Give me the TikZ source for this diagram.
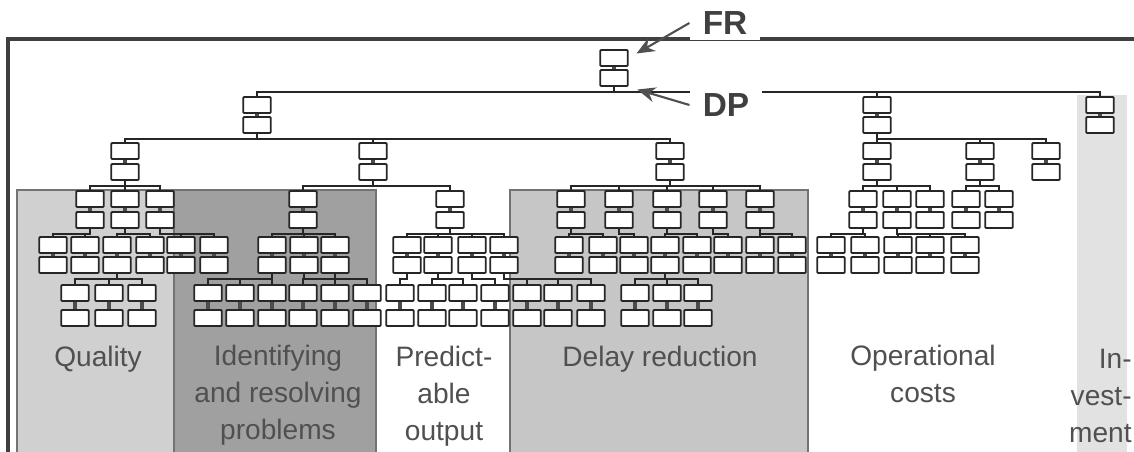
\documentclass[tikz,border=0pt]{standalone}
\usepackage{fontspec}
\setmainfont{Liberation Sans}
\usetikzlibrary{arrows.meta,positioning}
\definecolor{inkgray}{HTML}{505050}
\definecolor{quallight}{HTML}{D0D0D0}
\definecolor{probdark}{HTML}{A0A0A0}
\definecolor{delaymid}{HTML}{C6C6C6}
\definecolor{investpale}{HTML}{E2E2E2}
\tikzset{frbox/.style={draw=black!85, fill=white, line width=1.1pt, minimum width=.55cm, minimum height=.32cm, inner sep=0pt, rounded corners=.5pt}, plink/.style={line width=2.4pt, black!70}, link/.style={line width=.8pt, black!85}, zone/.style={draw=black!55, line width=.6pt}, frame/.style={line width=2pt, black!75}, ptr/.style={-{Stealth[length=3.6mm,width=3mm]}, line width=1.2pt, inkgray, shorten >=.18cm}, tag/.style={font=\bfseries\fontsize{19}{20}\selectfont, text=black!75, fill=white, inner xsep=.26cm, inner ysep=.12cm}, area/.style={font=\fontsize{16}{21}\selectfont, text=inkgray, align=center, anchor=north, inner sep=0pt}}
\newcommand{\fdpair}[4]{\node[frbox] (#1-f) at (#2,#3+8) {}; \node[frbox] (#1-d) at (#2,#3+24+#4) {}; \draw[plink] (#1-f) -- (#1-d);}

\begin{document}
\begin{tikzpicture}[x=0.02cm,y=-0.02cm]
\useasboundingbox (0,0) rectangle (1134,451);
\draw[zone,fill=quallight] (17,190) rectangle (174,455); \draw[zone,fill=probdark] (174,190) rectangle (376,455);
\draw[zone,fill=delaymid] (510,190) rectangle (808,455); \fill[investpale] (1077,95) rectangle (1127,455);
\draw[frame] (8,455) -- (8,39) -- (1138,39);
\fdpair{t}{614}{50}{4}
\foreach \n/\x in {a/257,b/877,c/1100}{\fdpair{\n}{\x}{97}{4}}
\foreach \n/\x in {a1/125,a2/373,a3/670,b1/877,b2/980,b3/1046}{\fdpair{\n}{\x}{143}{5}}
\foreach \n/\x in {q1/90,q2/125,q3/160,i1/303,p1/450,d1/571,d2/619,d3/667,d4/713,d5/760,o1/863,o2/897,o3/930,o4/966,o5/999}{\fdpair{\n}{\x}{191}{5}}
\foreach \n/\x in {q11/53,q12/85,q21/117,q22/150,q31/181,q32/214,i11/272,i12/304,i13/335,p11/407,p12/438,p13/472,p14/504,d11/569,d12/603,d21/634,d31/665,d32/697,d41/728,d51/760,d52/792,o11/831,o12/865,o21/898,o22/930,o23/965}{\fdpair{\n}{\x}{237}{4}}
\foreach \n/\x in {q211/75,q212/109,q213/142,i111/208,i112/240,i113/272,i121/303,i122/335,i131/367,p111/400,p121/432,p122/463,p131/495,p141/527,p142/558,p143/591,d311/635,d312/667,d313/698}{\fdpair{\n}{\x}{285}{9}}
\foreach \p/\c in {t/a,t/b,t/c,a/a1,a/a2,a/a3,b/b1,b/b2,b/b3,a1/q1,a1/q2,a1/q3,a2/i1,a2/p1,a3/d1,a3/d2,a3/d3,a3/d4,a3/d5,b1/o1,b1/o2,b1/o3,b2/o4,b2/o5,q1/q11,q1/q12,q2/q21,q2/q22,q3/q31,q3/q32,i1/i11,i1/i12,i1/i13,p1/p11,p1/p12,p1/p13,p1/p14,d1/d11,d1/d12,d2/d21,d3/d31,d3/d32,d4/d41,d5/d51,d5/d52,o1/o11,o1/o12,o2/o21,o2/o22,o2/o23,q21/q211,q21/q212,q21/q213,i11/i111,i11/i112,i11/i113,i12/i121,i12/i122,i13/i131,p11/p111,p12/p121,p12/p122,p13/p131,p14/p141,p14/p142,p14/p143,d31/d311,d31/d312,d31/d313}{\draw[link] (\p-d.south) -- ++(0,5) -| (\c-f.north);}
\node[tag] (fr) at (725,23) {FR}; \node[tag] (dp) at (726,105) {DP};
\draw[ptr] (fr.west) -- (t-f.east); \draw[ptr] (dp.west) -- (t-d.south east);
\node[area] (qual) at (98,346) {Quality};
\node[area] (prob) at (278,345) {Identifying\\and resolving\\problems};
\node[area] (pred) at (444,346) {Predict-\\able\\output};
\node[area] (delay) at (660,346) {Delay reduction};
\node[area] (opcost) at (923,345) {Operational\\costs};
\node[area, align=right, anchor=north east] (invest) at (1132,349) {In-\\vest-\\ment};
\end{tikzpicture}
\end{document}
